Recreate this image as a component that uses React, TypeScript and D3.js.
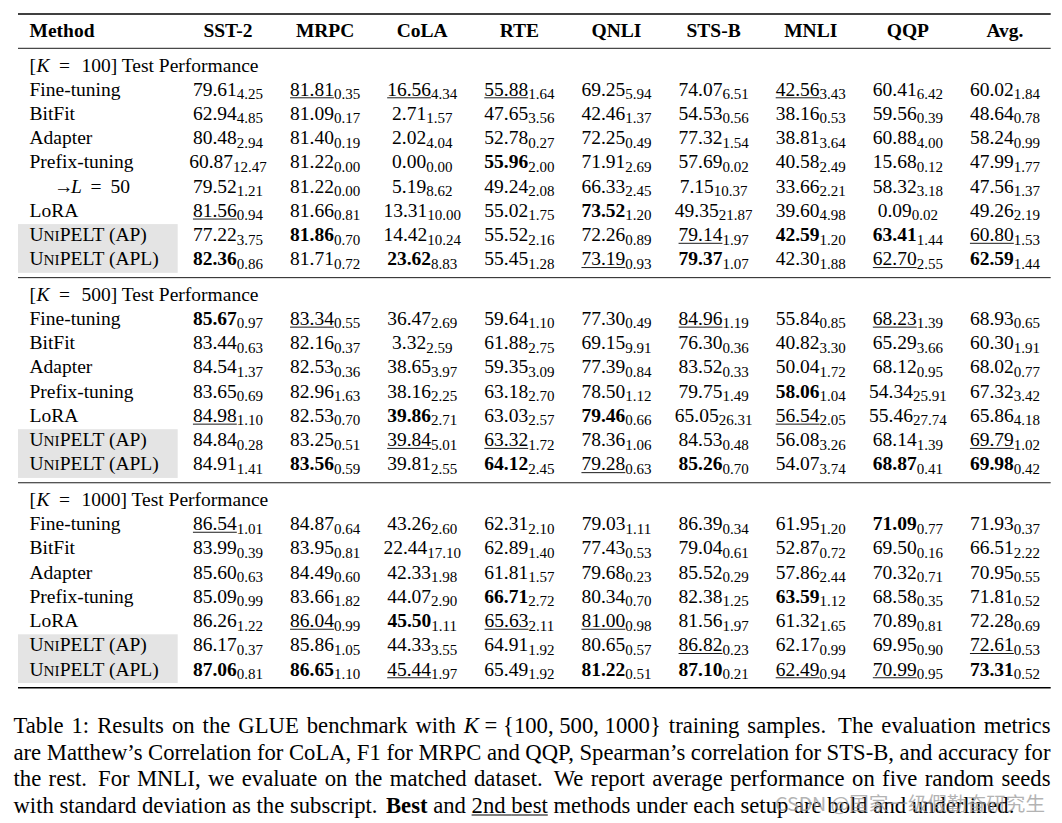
import React, { useEffect } from "react";
import * as d3 from "d3";

// ---------------- data ----------------
const COLUMNS = ["SST-2", "MRPC", "CoLA", "RTE", "QNLI", "STS-B", "MNLI", "QQP", "Avg."];

const METHODS_K100 = ["Fine-tuning", "BitFit", "Adapter", "Prefix-tuning", "→L = 50", "LoRA", "UniPELT (AP)", "UniPELT (APL)"];
const METHODS_K500 = ["Fine-tuning", "BitFit", "Adapter", "Prefix-tuning", "LoRA", "UniPELT (AP)", "UniPELT (APL)"];
const METHODS_K1000 = ["Fine-tuning", "BitFit", "Adapter", "Prefix-tuning", "LoRA", "UniPELT (AP)", "UniPELT (APL)"];

const K100_MEAN = [
  [79.61, 81.81, 16.56, 55.88, 69.25, 74.07, 42.56, 60.41, 60.02],
  [62.94, 81.09, 2.71, 47.65, 42.46, 54.53, 38.16, 59.56, 48.64],
  [80.48, 81.4, 2.02, 52.78, 72.25, 77.32, 38.81, 60.88, 58.24],
  [60.87, 81.22, 0.0, 55.96, 71.91, 57.69, 40.58, 15.68, 47.99],
  [79.52, 81.22, 5.19, 49.24, 66.33, 7.15, 33.66, 58.32, 47.56],
  [81.56, 81.66, 13.31, 55.02, 73.52, 49.35, 39.6, 0.09, 49.26],
  [77.22, 81.86, 14.42, 55.52, 72.26, 79.14, 42.59, 63.41, 60.8],
  [82.36, 81.71, 23.62, 55.45, 73.19, 79.37, 42.3, 62.7, 62.59],
];
const K100_STD = [
  [4.25, 0.35, 4.34, 1.64, 5.94, 6.51, 3.43, 6.42, 1.84],
  [4.85, 0.17, 1.57, 3.56, 1.37, 0.56, 0.53, 0.39, 0.78],
  [2.94, 0.19, 4.04, 0.27, 0.49, 1.54, 3.64, 4.0, 0.99],
  [12.47, 0.0, 0.0, 2.0, 2.69, 0.02, 2.49, 0.12, 1.77],
  [1.21, 0.0, 8.62, 2.08, 2.45, 10.37, 2.21, 3.18, 1.37],
  [0.94, 0.81, 10.0, 1.75, 1.2, 21.87, 4.98, 0.02, 2.19],
  [3.75, 0.7, 10.24, 2.16, 0.89, 1.97, 1.2, 1.44, 1.53],
  [0.86, 0.72, 8.83, 1.28, 0.93, 1.07, 1.88, 2.55, 1.44],
];
// b = best (bold), u = 2nd best (underlined)
const K100_MARK = ["-uuu--u--", "---------", "---------", "---b-----", "---------", "u---b----", "-b---ubbu", "b-b-ub-ub"];

const K500_MEAN = [
  [85.67, 83.34, 36.47, 59.64, 77.3, 84.96, 55.84, 68.23, 68.93],
  [83.44, 82.16, 3.32, 61.88, 69.15, 76.3, 40.82, 65.29, 60.3],
  [84.54, 82.53, 38.65, 59.35, 77.39, 83.52, 50.04, 68.12, 68.02],
  [83.65, 82.96, 38.16, 63.18, 78.5, 79.75, 58.06, 54.34, 67.32],
  [84.98, 82.53, 39.86, 63.03, 79.46, 65.05, 56.54, 55.46, 65.86],
  [84.84, 83.25, 39.84, 63.32, 78.36, 84.53, 56.08, 68.14, 69.79],
  [84.91, 83.56, 39.81, 64.12, 79.28, 85.26, 54.07, 68.87, 69.98],
];
const K500_STD = [
  [0.97, 0.55, 2.69, 1.1, 0.49, 1.19, 0.85, 1.39, 0.65],
  [0.63, 0.37, 2.59, 2.75, 9.91, 0.36, 3.3, 3.66, 1.91],
  [1.37, 0.36, 3.97, 3.09, 0.84, 0.33, 1.72, 0.95, 0.77],
  [0.69, 1.63, 2.25, 2.7, 1.12, 1.49, 1.04, 25.91, 3.42],
  [1.1, 0.7, 2.71, 2.57, 0.66, 26.31, 2.05, 27.74, 4.18],
  [0.28, 0.51, 5.01, 1.72, 1.06, 0.48, 3.26, 1.39, 1.02],
  [1.41, 0.59, 2.55, 2.45, 0.63, 0.7, 3.74, 0.41, 0.42],
];
const K500_MARK = ["bu---u-u-", "---------", "---------", "------b--", "u-b-b-u--", "--uu----u", "-b-bub-bb"];

const K1000_MEAN = [
  [86.54, 84.87, 43.26, 62.31, 79.03, 86.39, 61.95, 71.09, 71.93],
  [83.99, 83.95, 22.44, 62.89, 77.43, 79.04, 52.87, 69.5, 66.51],
  [85.6, 84.49, 42.33, 61.81, 79.68, 85.52, 57.86, 70.32, 70.95],
  [85.09, 83.66, 44.07, 66.71, 80.34, 82.38, 63.59, 68.58, 71.81],
  [86.26, 86.04, 45.5, 65.63, 81.0, 81.56, 61.32, 70.89, 72.28],
  [86.17, 85.86, 44.33, 64.91, 80.65, 86.82, 62.17, 69.95, 72.61],
  [87.06, 86.65, 45.44, 65.49, 81.22, 87.1, 62.49, 70.99, 73.31],
];
const K1000_STD = [
  [1.01, 0.64, 2.6, 2.1, 1.11, 0.34, 1.2, 0.77, 0.37],
  [0.39, 0.81, 17.1, 1.4, 0.53, 0.61, 0.72, 0.16, 2.22],
  [0.63, 0.6, 1.98, 1.57, 0.23, 0.29, 2.44, 0.71, 0.55],
  [0.99, 1.82, 2.9, 2.72, 0.7, 1.25, 1.12, 0.35, 0.52],
  [1.22, 0.99, 1.11, 2.11, 0.98, 1.97, 1.65, 0.81, 0.69],
  [0.37, 1.05, 3.55, 1.92, 0.57, 0.23, 0.99, 0.9, 0.53],
  [0.81, 1.1, 1.97, 1.92, 0.51, 0.21, 0.94, 0.95, 0.52],
];
const K1000_MARK = ["u------b-", "---------", "---------", "---b--b--", "-ubuu----", "-----u--u", "bbu-bbuub"];

const SECTIONS = [
  { k: "100", methods: METHODS_K100, mean: K100_MEAN, std: K100_STD, mark: K100_MARK },
  { k: "500", methods: METHODS_K500, mean: K500_MEAN, std: K500_STD, mark: K500_MARK },
  { k: "1000", methods: METHODS_K1000, mean: K1000_MEAN, std: K1000_STD, mark: K1000_MARK },
];

// ---------------- caption ----------------
type Seg = { t: string; i?: boolean; b?: boolean };
type Word = { segs: Seg[]; u?: boolean };
const mk = (t: string, o: { i?: boolean; b?: boolean; u?: boolean } = {}): Word => ({ segs: [{ t, i: o.i, b: o.b }], u: o.u });
const words = (s: string) => s.split(" ").map((t) => mk(t));

const CAPTION_LINES: { words: Word[]; justify: boolean }[] = [
  {
    justify: true,
    words: [
      ...words("Table 1: Results on the GLUE benchmark with"),
      { segs: [{ t: "K", i: true }, { t: " = {100, 500, 1000}" }] },
      ...words("training samples. The evaluation metrics"),
    ],
  },
  { justify: true, words: words("are Matthew’s Correlation for CoLA, F1 for MRPC and QQP, Spearman’s correlation for STS-B, and accuracy for") },
  { justify: true, words: words("the rest. For MNLI, we evaluate on the matched dataset. We report average performance on five random seeds") },
  {
    justify: false,
    words: [
      ...words("with standard deviation as the subscript."),
      mk("Best", { b: true }),
      mk("and"),
      mk("2nd", { u: true }),
      mk("best", { u: true }),
      ...words("methods under each setup are bold and underlined."),
    ],
  },
];

// ---------------- helpers ----------------
const SERIF = '"Liberation Serif", "Times New Roman", Times, serif';
const FS = 19.5;
const SUB = 15;

let ctx: CanvasRenderingContext2D | null = null;
function tw(t: string, size: number, weight = "normal", style = "normal") {
  if (!ctx) ctx = document.createElement("canvas").getContext("2d");
  ctx!.font = `${style} ${weight} ${size}px "Liberation Serif"`;
  return ctx!.measureText(t).width;
}
const wordWidth = (w: Word, fs: number) => d3.sum(w.segs, (s) => tw(s.t, fs, s.b ? "bold" : "normal", s.i ? "italic" : "normal"));
const gapWeight = (w: Word) => (/[.]$/.test(w.segs[w.segs.length - 1].t) ? 1.5 : 1);

const fmt = d3.format(".2f");

function MethodLabel({ name, y }: { name: string; y: number }) {
  if (name.startsWith("→")) {
    return (
      <text y={y} fontSize={FS}>
        <tspan x={54}>→</tspan>
        <tspan x={71} fontStyle="italic">L</tspan>
        <tspan x={90.5}>=</tspan>
        <tspan x={110.5}>50</tspan>
      </text>
    );
  }
  if (name.startsWith("UniPELT")) {
    return (
      <text x={29.5} y={y} fontSize={FS}>
        <tspan>U</tspan>
        <tspan fontSize={FS * 0.78}>NI</tspan>
        <tspan>{name.slice(3).replace("PELT", "PELT")}</tspan>
      </text>
    );
  }
  return (
    <text x={29.5} y={y} fontSize={FS}>
      {name}
    </text>
  );
}

export default function App() {
  useEffect(() => {
    document.body.style.margin = "0";
    document.body.style.overflow = "hidden";
  }, []);

  const W = 1062;
  const H = 823;
  const TL = 18;
  const TR = 1050.7;
  const x = d3.scalePoint<string>().domain(COLUMNS).range([228, 1005]);

  const topRule = 14;
  const headerBase = 37;
  const headRule = 48.3;
  const STEP = 24.25;

  let cursor = headRule;
  const layout = SECTIONS.map((sec) => {
    const rule = cursor;
    const titleY = rule + 23.2;
    const first = titleY + 24.1;
    const yRow = d3.scaleLinear().domain([0, 1]).range([first, first + STEP]);
    const rowY = sec.methods.map((_, i) => yRow(i));
    cursor = rowY[rowY.length - 1] + 12.3;
    return { ...sec, rule, titleY, rowY };
  });
  const bottomRule = cursor;

  // caption layout
  const CAP_L = 13.5;
  const CAP_R = 1050.5;
  const capBase = [733, 759.5, 786, 812.5];
  const last = CAPTION_LINES[3].words;
  const natural = (ws: Word[], fs: number) =>
    d3.sum(ws, (w) => wordWidth(w, fs)) + d3.sum(ws.slice(0, -1), (w) => gapWeight(w)) * 0.25 * fs;
  const capFs = (20 * 1001.5) / natural(last, 20);

  const capLines = CAPTION_LINES.map((line, li) => {
    const widths = line.words.map((w) => wordWidth(w, capFs));
    const weights = line.words.slice(0, -1).map(gapWeight);
    const unit = line.justify
      ? (CAP_R - CAP_L - d3.sum(widths)) / d3.sum(weights)
      : 0.25 * capFs;
    let cx = CAP_L;
    const placed = line.words.map((w, i) => {
      const p = { w, x: cx, width: widths[i] };
      cx += widths[i] + (i < weights.length ? weights[i] * unit : 0);
      return p;
    });
    return { placed, y: capBase[li] };
  });

  return (
    <svg
      width={W}
      height={H}
      viewBox={`0 0 ${W} ${H}`}
      style={{ position: "absolute", left: 0, top: 0, display: "block", background: "#fff" }}
      fontFamily={SERIF}
      fill="#000"
    >
      <rect x={0} y={0} width={W} height={H} fill="#fff" />

      {/* gray highlights for UniPELT rows */}
      {layout.map((sec) => {
        const n = sec.rowY.length;
        const y0 = sec.rowY[n - 2] - 17;
        const y1 = sec.rowY[n - 1] + 7.5;
        return <rect key={"g" + sec.k} x={TL} y={y0} width={177.7 - TL} height={y1 - y0} fill="#e4e4e4" />;
      })}

      {/* rules */}
      <line x1={TL} x2={TR} y1={topRule} y2={topRule} stroke="#000" strokeWidth={1.4} />
      <line x1={TL} x2={TR} y1={headRule} y2={headRule} stroke="#000" strokeWidth={0.9} />
      {layout.slice(1).map((sec) => (
        <line key={"r" + sec.k} x1={TL} x2={TR} y1={sec.rule} y2={sec.rule} stroke="#000" strokeWidth={0.9} />
      ))}
      <line x1={TL} x2={TR} y1={bottomRule} y2={bottomRule} stroke="#000" strokeWidth={1.5} />

      {/* header */}
      <text x={29.5} y={headerBase} fontSize={FS} fontWeight="bold">
        Method
      </text>
      {COLUMNS.map((c) => (
        <text key={c} x={x(c)} y={headerBase} fontSize={FS} fontWeight="bold" textAnchor="middle">
          {c}
        </text>
      ))}

      {/* sections */}
      {layout.map((sec) => (
        <g key={sec.k}>
          <text y={sec.titleY} fontSize={FS}>
            <tspan x={29.5}>[</tspan>
            <tspan x={36.5} fontStyle="italic">K</tspan>
            <tspan x={59}>=</tspan>
            <tspan x={81.5}>{sec.k}] Test Performance</tspan>
          </text>
          {sec.methods.map((m, ri) => {
            const y = sec.rowY[ri];
            return (
              <g key={m}>
                <MethodLabel name={m} y={y} />
                {COLUMNS.map((c, ci) => {
                  const mean = fmt(sec.mean[ri][ci]);
                  const sd = fmt(sec.std[ri][ci]);
                  const mk = sec.mark[ri][ci];
                  const bold = mk === "b";
                  const w1 = tw(mean, FS, bold ? "bold" : "normal");
                  const w2 = tw(sd, SUB);
                  const x0 = (x(c) as number) - (w1 + w2) / 2;
                  return (
                    <g key={c}>
                      <text x={x0} y={y} fontSize={FS} fontWeight={bold ? "bold" : "normal"}>
                        {mean}
                      </text>
                      <text x={x0 + w1} y={y + 3.5} fontSize={SUB}>
                        {sd}
                      </text>
                      {mk === "u" && (
                        <line x1={x0} x2={x0 + w1} y1={y + 2.2} y2={y + 2.2} stroke="#000" strokeWidth={0.9} />
                      )}
                    </g>
                  );
                })}
              </g>
            );
          })}
        </g>
      ))}

      {/* caption */}
      {capLines.map((line, li) => (
        <g key={"cap" + li}>
          {line.placed.map((p, wi) => {
            const next = line.placed[wi + 1];
            const uEnd = p.w.u && next && next.w.u ? next.x : p.x + p.width;
            return (
              <g key={wi}>
                <text x={p.x} y={line.y} fontSize={capFs}>
                  {p.w.segs.map((s, si) => (
                    <tspan key={si} fontStyle={s.i ? "italic" : "normal"} fontWeight={s.b ? "bold" : "normal"}>
                      {s.t}
                    </tspan>
                  ))}
                </text>
                {p.w.u && (
                  <line x1={p.x} x2={uEnd} y1={line.y + 2.5} y2={line.y + 2.5} stroke="#000" strokeWidth={1} />
                )}
              </g>
            );
          })}
        </g>
      ))}

      {/* watermark */}
      <text
        x={775}
        y={811}
        fontSize={19}
        fontFamily={'"Noto Sans CJK SC", "Noto Sans", sans-serif'}
        fill="#9a9a9a"
        opacity={0.75}
        textLength={270}
        lengthAdjust="spacingAndGlyphs"
      >
        CSDN @国家一级假勤奋研究生
      </text>
    </svg>
  );
}
